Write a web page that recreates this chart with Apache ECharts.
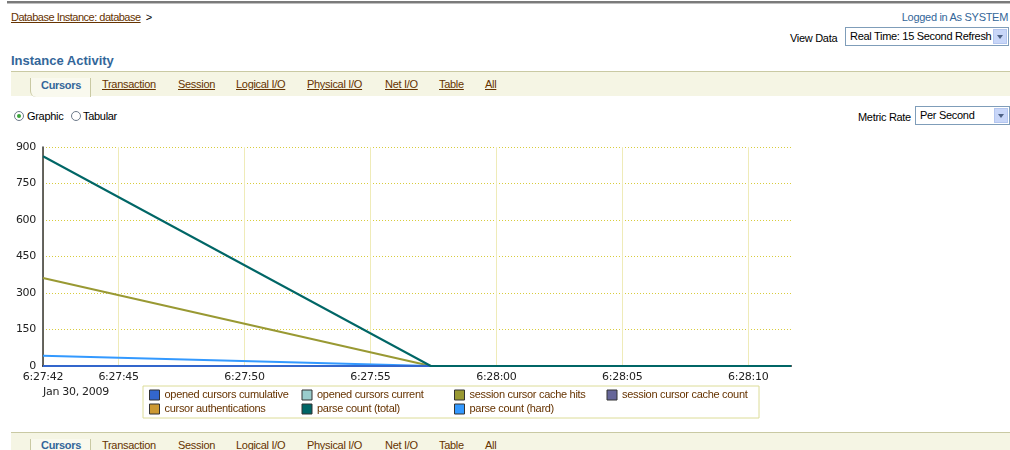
<!DOCTYPE html>
<html>
<head>
<meta charset="utf-8">
<script src="https://cdn.jsdelivr.net/npm/echarts@6/dist/echarts.min.js"></script>
<style>
  body { margin: 0; width: 1010px; height: 450px; background: #fff; position: relative; overflow: hidden;
         font-family: "Liberation Sans", Arial, sans-serif; font-size: 11px; letter-spacing: -0.3px; color: #000; }
  .abs { position: absolute; white-space: nowrap; }
  .lnk { color: #663300; text-decoration: underline; }
  .topbar { left: 7px; top: 1px; width: 1003px; height: 2px; background: #7a7a7a; border-bottom: 1px solid #c0c0c0; }
  .tabs { left: 11px; width: 999px; height: 24px; background: #f5f5e4; border-top: 1px solid #c9c9a3; }
  .tabs span { position: absolute; top: 6px; font-size: 11px; }
  .tabs .sel { left: 19px; top: 6px; width: 59px; height: 19px; background: #f9f9ee; border: 1px solid #c9c9a3;
               border-bottom: none; border-top: none; border-radius: 0 0 0 6px; }
  .tabs .cur { color: #336699; font-weight: bold; }
  .select { border: 1px solid #7f9db9; height: 19px; background: #fff; font-size: 11px; line-height: 17px; padding-left: 4px; box-sizing: border-box; }
  .select .btn { position: absolute; right: 1px; top: 1px; width: 14px; height: 15px; background: #c8d6f8; border: 1px solid #b4c6ef; box-sizing: border-box; }
  .select .btn:after { content: ""; position: absolute; left: 3px; top: 5px; border-left: 3px solid transparent; border-right: 3px solid transparent; border-top: 4px solid #4d6185; }
  .radio { width: 10px; height: 10px; border: 1px solid #6d7a8a; border-radius: 50%; background: #fff; box-sizing: border-box; }
  .radio.on:after { content: ""; position: absolute; left: 2px; top: 2px; width: 4px; height: 4px; border-radius: 50%; background: #3aa53a; }
  #main { position: absolute; left: 0; top: 130px; width: 1010px; height: 300px; }
</style>
</head>
<body>
<div class="abs topbar"></div>
<div class="abs" style="left:11px; top:11px; letter-spacing:-0.5px;"><span class="lnk">Database Instance: database</span> &nbsp;&gt;</div>
<div class="abs" style="right:2px; top:11px; color:#336699;">Logged in As SYSTEM</div>
<div class="abs" style="left:790px; top:32px;">View Data</div>
<div class="abs select" style="left:845px; top:27px; width:164px;">Real Time: 15 Second Refresh<div class="btn"></div></div>
<div class="abs" style="left:11px; top:53px; font-size:13px; letter-spacing:0; font-weight:bold; color:#336699;">Instance Activity</div>

<div class="abs tabs" style="top:71px;">
  <div class="abs sel"></div>
  <span class="cur" style="left:30px; top:7px;">Cursors</span>
  <span class="lnk" style="left:91px;">Transaction</span>
  <span class="lnk" style="left:167px;">Session</span>
  <span class="lnk" style="left:225px;">Logical I/O</span>
  <span class="lnk" style="left:296px;">Physical I/O</span>
  <span class="lnk" style="left:374px;">Net I/O</span>
  <span class="lnk" style="left:428px;">Table</span>
  <span class="lnk" style="left:474px;">All</span>
</div>

<div class="abs radio on" style="left:14px; top:111px;"></div>
<div class="abs" style="left:27px; top:110px;">Graphic</div>
<div class="abs radio" style="left:71px; top:111px;"></div>
<div class="abs" style="left:83px; top:110px;">Tabular</div>
<div class="abs" style="left:858px; top:111px;">Metric Rate</div>
<div class="abs select" style="left:915px; top:106px; width:95px;">Per Second<div class="btn"></div></div>

<div id="main"></div>

<div class="abs tabs" style="top:432px;">
  <div class="abs sel"></div>
  <span class="cur" style="left:30px; top:6px;">Cursors</span>
  <span class="lnk" style="left:91px;">Transaction</span>
  <span class="lnk" style="left:167px;">Session</span>
  <span class="lnk" style="left:225px;">Logical I/O</span>
  <span class="lnk" style="left:296px;">Physical I/O</span>
  <span class="lnk" style="left:374px;">Net I/O</span>
  <span class="lnk" style="left:428px;">Table</span>
  <span class="lnk" style="left:474px;">All</span>
</div>

<script>
// sample times, seconds after 6:27:00
const sampleTimes = [42, 57.4, 71.7]
const timeTicks = [42, 45, 50, 55, 60, 65, 70]

const openedCursorsCumulative = [0, 0, 0]
const openedCursorsCurrent = [0, 0, 0]
const sessionCursorCacheHits = [362, 0, 0]
const sessionCursorCacheCount = [0, 0, 0]
const cursorAuthentications = [0, 0, 0]
const parseCountTotal = [862, 0, 0]
const parseCountHard = [42, 0, 0]

const seriesDefs = [
  { name: 'opened cursors cumulative', color: '#3366cc', z: 3, data: openedCursorsCumulative },
  { name: 'opened cursors current', color: '#99cccc', z: 2, data: openedCursorsCurrent },
  { name: 'session cursor cache hits', color: '#999933', z: 2, data: sessionCursorCacheHits },
  { name: 'session cursor cache count', color: '#666699', z: 2, data: sessionCursorCacheCount },
  { name: 'cursor authentications', color: '#cc9933', z: 2, data: cursorAuthentications },
  { name: 'parse count (total)', color: '#006666', z: 4, data: parseCountTotal },
  { name: 'parse count (hard)', color: '#3399ff', z: 2, data: parseCountHard },
]

function fmtTime(v) {
  const m = 27 + Math.floor(v / 60)
  const s = Math.round(v % 60)
  return '6:' + m + ':' + (s < 10 ? '0' + s : s)
}

const chart = echarts.init(document.getElementById('main'))
const gridColor = '#d8cc3c'

const option = {
  animation: false,
  grid: { left: 43, right: 219, top: 17, bottom: 64 },
  xAxis: {
    type: 'value',
    min: sampleTimes[0],
    max: sampleTimes[sampleTimes.length - 1],
    axisLine: { lineStyle: { color: '#333', width: 2 } },
    axisTick: { show: false, customValues: timeTicks },
    axisLabel: {
      customValues: timeTicks,
      formatter: fmtTime,
      color: '#222',
      fontSize: 11,
      fontFamily: 'DejaVu Sans',
      margin: 6,
      showMinLabel: true,
      showMaxLabel: true,
    },
    splitLine: { show: true, lineStyle: { color: '#efebb8', type: 'solid', width: 1 } },
  },
  yAxis: {
    type: 'value',
    min: 0,
    max: 900,
    interval: 150,
    axisLine: { show: true, lineStyle: { color: '#333', width: 1.5 } },
    axisTick: { show: false },
    axisLabel: { color: '#222', fontSize: 11, fontFamily: 'DejaVu Sans', margin: 7 },
    splitLine: { show: true, lineStyle: { color: gridColor, type: [1, 2], width: 1 } },
  },
  legend: {
    left: 143,
    top: 256,
    width: 630,
    orient: 'horizontal',
    icon: 'rect',
    itemWidth: 10,
    itemHeight: 10,
    itemGap: 0,
    padding: [2, 0, 2, 6],
    borderColor: '#dcdc98',
    borderWidth: 1,
    backgroundColor: '#fff',
    itemStyle: { borderColor: '#333', borderWidth: 1 },
    textStyle: {
      color: '#663300',
      fontSize: 11,
      fontFamily: 'Liberation Sans',
      width: 130,
      lineHeight: 14,
      padding: [0, 7, 0, 0],
    },
    data: seriesDefs.map(s => s.name),
  },
  graphic: [
    { type: 'text', left: 43, top: 257, style: { text: 'Jan 30, 2009', fontSize: 11, fontFamily: 'DejaVu Sans', fill: '#222' } },
  ],
  series: seriesDefs.map(s => ({
    name: s.name,
    type: 'line',
    symbol: 'none',
    z: s.z,
    color: s.color,
    lineStyle: { width: 2, color: s.color },
    data: s.data.map((v, i) => [sampleTimes[i], v]),
  })),
}

chart.setOption(option)
</script>
</body>
</html>
